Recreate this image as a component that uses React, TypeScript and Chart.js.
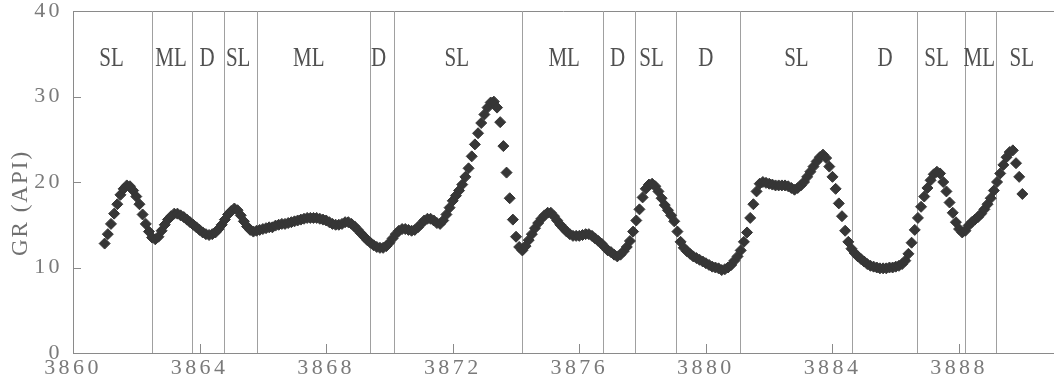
import React, { useEffect, useRef } from 'react';
import { Chart, registerables } from 'chart.js';

Chart.register(...registerables);

// Sampling of the GR log (depth, m)
const DEPTH_START = 3861.0;
const DEPTH_STEP = 0.1;

// GR (API) readings, one row per metre (3861.0 ... 3890.0)
const GR_API = [
  12.8, 13.9, 15.1, 16.3, 17.4, 18.5, 19.2, 19.6, 19.5, 19.0,
  18.3, 17.4, 16.2, 15.1, 14.2, 13.5, 13.3, 13.6, 14.3, 15.0,
  15.6, 16.0, 16.3, 16.3, 16.1, 15.9, 15.6, 15.3, 15.0, 14.7,
  14.4, 14.1, 13.9, 13.8, 13.9, 14.1, 14.5, 15.0, 15.6, 16.2,
  16.6, 16.9, 16.7, 16.1, 15.4, 14.8, 14.4, 14.2, 14.3, 14.4,
  14.5, 14.6, 14.7, 14.7, 14.9, 15.0, 15.1, 15.1, 15.2, 15.3,
  15.4, 15.5, 15.6, 15.7, 15.8, 15.8, 15.8, 15.8, 15.7, 15.6,
  15.5, 15.3, 15.1, 15.0, 15.0, 15.1, 15.3, 15.3, 15.1, 14.8,
  14.4, 14.0, 13.6, 13.2, 12.9, 12.6, 12.4, 12.3, 12.3, 12.5,
  12.9, 13.4, 13.9, 14.3, 14.5, 14.5, 14.4, 14.3, 14.4, 14.7,
  15.1, 15.5, 15.7, 15.7, 15.5, 15.2, 15.1, 15.5, 16.2, 17.0,
  17.8, 18.4, 19.0, 19.7, 20.6, 21.6, 23.0, 24.4, 25.7, 26.9,
  27.9, 28.7, 29.3, 29.4, 28.7, 27.0, 24.2, 21.1, 18.1, 15.6,
  13.6, 12.4, 12.0, 12.5, 13.2, 13.9, 14.6, 15.2, 15.7, 16.1,
  16.4, 16.4, 16.0, 15.5, 15.0, 14.6, 14.2, 13.9, 13.7, 13.7,
  13.7, 13.8, 13.9, 13.9, 13.7, 13.4, 13.1, 12.8, 12.4, 12.0,
  11.8, 11.5, 11.3, 11.5, 11.9, 12.4, 13.1, 14.2, 15.5, 16.8,
  18.2, 19.2, 19.7, 19.8, 19.5, 18.9, 18.1, 17.3, 16.7, 16.1,
  15.4, 14.2, 13.0, 12.3, 11.9, 11.6, 11.3, 11.1, 10.9, 10.7,
  10.5, 10.3, 10.1, 10.0, 9.9, 9.7, 9.8, 10.0, 10.3, 10.8,
  11.3, 12.0, 13.0, 14.1, 15.8, 17.4, 18.9, 19.8, 20.0, 19.9,
  19.8, 19.7, 19.6, 19.6, 19.6, 19.6, 19.5, 19.3, 19.1, 19.3,
  19.6, 20.0, 20.6, 21.2, 21.8, 22.4, 22.9, 23.2, 22.8, 21.8,
  20.6, 19.2, 17.5, 16.0, 14.3, 13.0, 12.2, 11.7, 11.3, 11.0,
  10.7, 10.4, 10.2, 10.1, 10.0, 9.9, 9.9, 9.9, 10.0, 10.0,
  10.1, 10.2, 10.4, 10.8, 11.6, 12.9, 14.4, 15.8, 17.1, 18.3,
  19.3, 20.2, 20.9, 21.2, 21.0, 20.0, 18.9, 17.6, 16.4, 15.3,
  14.5, 14.1, 14.3, 14.9, 15.3, 15.6, 15.9, 16.3, 16.8, 17.4,
  18.1, 19.0, 20.0, 21.0, 22.0, 22.9, 23.5, 23.7, 22.2, 20.6,
  18.6,
];

// Facies boundaries (depth, m)
const BOUNDARIES = [
  3862.49, 3863.75, 3864.76, 3865.8, 3869.37, 3870.13, 3874.2, 3876.76,
  3877.77, 3879.07, 3881.08, 3884.62, 3886.67, 3888.19, 3889.17,
];

// Facies labels and their depth positions
const FACIES = ['SL', 'ML', 'D', 'SL', 'ML', 'D', 'SL', 'ML', 'D', 'SL', 'D', 'SL', 'D', 'SL', 'ML', 'SL'];
const FACIES_POS = [
  3861.22, 3863.1, 3864.24, 3865.22, 3867.45, 3869.66, 3872.13, 3875.52,
  3877.21, 3878.28, 3880.0, 3882.86, 3885.66, 3887.29, 3888.64, 3889.98,
];

const X_TICKS = [3860, 3864, 3868, 3872, 3876, 3880, 3884, 3888];
const Y_TICKS = [0, 10, 20, 30, 40];
const Y_TITLE = 'GR (API)';

const overlay = {
  id: 'faciesOverlay',
  beforeDraw(chart: any) {
    (chart.ctx as any).letterSpacing = '3.4px';
  },
  beforeDatasetsDraw(chart: any) {
    const { ctx, chartArea, scales } = chart;
    const xs = scales.x;
    const ys = scales.y;
    ctx.save();
    (ctx as any).letterSpacing = '0px';
    // top frame
    ctx.strokeStyle = '#8a8a8a';
    ctx.lineWidth = 1;
    ctx.beginPath();
    ctx.moveTo(chartArea.left, chartArea.top + 0.5);
    ctx.lineTo(chartArea.right, chartArea.top + 0.5);
    ctx.stroke();
    // facies boundaries
    ctx.strokeStyle = '#a0a0a0';
    BOUNDARIES.forEach((d) => {
      const px = Math.round(xs.getPixelForValue(d)) + 0.5;
      ctx.beginPath();
      ctx.moveTo(px, chartArea.top);
      ctx.lineTo(px, chartArea.bottom);
      ctx.stroke();
    });
    // inward tick marks
    ctx.strokeStyle = '#8a8a8a';
    Y_TICKS.forEach((v) => {
      if (v === 0 || v === 40) return;
      const py = Math.round(ys.getPixelForValue(v)) + 0.5;
      ctx.beginPath();
      ctx.moveTo(chartArea.left, py);
      ctx.lineTo(chartArea.left + 8, py);
      ctx.stroke();
    });
    X_TICKS.forEach((v) => {
      if (v === 3860) return;
      const px = Math.round(xs.getPixelForValue(v)) + 0.5;
      ctx.beginPath();
      ctx.moveTo(px, chartArea.bottom);
      ctx.lineTo(px, chartArea.bottom - 9);
      ctx.stroke();
    });
    ctx.restore();
  },
  afterDraw(chart: any) {
    const { ctx, scales } = chart;
    const xs = scales.x;
    ctx.save();
    (ctx as any).letterSpacing = '0px';
    ctx.fillStyle = '#505050';
    ctx.font = '21px "Liberation Serif", serif';
    ctx.textAlign = 'center';
    ctx.textBaseline = 'alphabetic';
    FACIES.forEach((lab, i) => {
      const px = xs.getPixelForValue(FACIES_POS[i]);
      ctx.save();
      ctx.translate(px, 66);
      ctx.scale(1, 1.25);
      ctx.fillText(lab, 0, 0);
      ctx.restore();
    });
    // y axis title
    ctx.fillStyle = '#707070';
    ctx.font = '23px "Liberation Serif", serif';
    (ctx as any).letterSpacing = '2px';
    ctx.translate(21, 203);
    ctx.rotate(-Math.PI / 2);
    ctx.textBaseline = 'middle';
    ctx.fillText(Y_TITLE, 0, 0);
    ctx.restore();
    (ctx as any).letterSpacing = '0px';
  },
};

export default function App() {
  const ref = useRef<HTMLCanvasElement>(null);
  useEffect(() => {
    const canvas = ref.current;
    if (!canvas) return;
    const points = GR_API.map((v, i) => ({ x: +(DEPTH_START + i * DEPTH_STEP).toFixed(2), y: v }));
    const tickFont = { family: '"Liberation Serif", serif', size: 22, lineHeight: 1 };
    const chart = new Chart(canvas, {
      type: 'scatter',
      data: {
        datasets: [
          {
            data: points,
            pointStyle: 'rectRot',
            pointRadius: 5.5,
            pointBorderWidth: 1,
            backgroundColor: '#363636',
            borderColor: '#363636',
            showLine: false,
          },
        ],
      },
      options: {
        responsive: false,
        animation: false,
        layout: { autoPadding: false, padding: { top: 11, left: 0, right: 0, bottom: 0 } },
        plugins: { legend: { display: false }, tooltip: { enabled: false } },
        scales: {
          x: {
            type: 'linear',
            min: 3860,
            max: 3891,
            afterBuildTicks: (s: any) => {
              s.ticks = X_TICKS.map((v) => ({ value: v }));
            },
            afterFit: (s: any) => {
              s.height = 35;
              s.paddingLeft = 0;
              s.paddingRight = 0;
            },
            grid: { display: true, drawOnChartArea: false, drawTicks: false },
            border: { display: true, color: '#8a8a8a', width: 1 },
            ticks: {
              padding: 4,
              color: '#7a7a7a',
              font: tickFont,
              maxRotation: 0,
              autoSkip: false,
              callback: (v: any) => String(v),
            },
          },
          y: {
            type: 'linear',
            min: 0,
            max: 40,
            afterBuildTicks: (s: any) => {
              s.ticks = Y_TICKS.map((v) => ({ value: v }));
            },
            afterFit: (s: any) => {
              s.width = 73;
              s.paddingTop = 0;
              s.paddingBottom = 0;
            },
            grid: { display: true, drawOnChartArea: false, drawTicks: false },
            border: { display: true, color: '#8a8a8a', width: 1 },
            ticks: {
              padding: 10,
              color: '#7a7a7a',
              font: tickFont,
              callback: (v: any) => String(v),
            },
          },
        },
      },
      plugins: [overlay],
    });
    return () => chart.destroy();
  }, []);
  return (
    <div style={{ position: 'absolute', left: 0, top: 0, width: 1054, height: 388, background: '#fff' }}>
      <canvas ref={ref} width={1054} height={388} style={{ display: 'block' }} />
    </div>
  );
}
